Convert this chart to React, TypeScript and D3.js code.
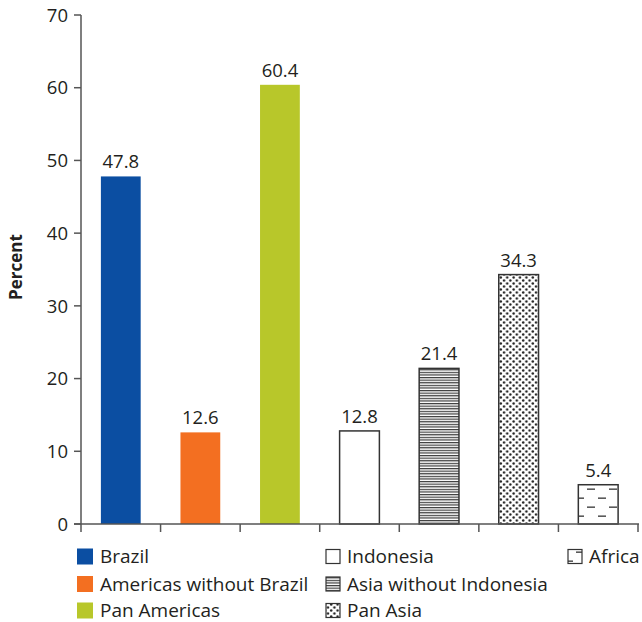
import React from "react";
import * as d3 from "d3";

const categories = [
  "Brazil",
  "Americas without Brazil",
  "Pan Americas",
  "Indonesia",
  "Asia without Indonesia",
  "Pan Asia",
  "Africa",
];
const values = [47.8, 12.6, 60.4, 12.8, 21.4, 34.3, 5.4];
const yTicks = [0, 10, 20, 30, 40, 50, 60, 70];
const fills = ["#0b4ea2", "#f36f21", "#b8c72a", "#ffffff", "url(#hlines)", "url(#dots)", "url(#dashes)"];
const legendColumns = [[0, 1, 2], [3, 4, 5], [6]];

const W = 642;
const H = 622;
const margin = { left: 81, right: 4, top: 15, bottom: 98 };
const FONT = "'Open Sans', 'Noto Sans', 'DejaVu Sans', sans-serif";
const TEXT = "#231f20";
const AXIS = "#555555";

export default function App() {
  const x = d3
    .scaleBand<string>()
    .domain(categories)
    .range([margin.left, W - margin.right])
    .paddingInner(0.5)
    .paddingOuter(0.25);
  const y = d3.scaleLinear().domain([0, 70]).range([524, 15]);
  const step = x.step();
  const x0 = margin.left;

  const legendX = [77, 326, 568];
  const legendY = [556.5, 584, 610.5];

  return (
    <svg
      width={W}
      height={H}
      style={{ position: "absolute", left: 0, top: 0, background: "#fff" }}
      fontFamily={FONT}
    >
      <defs>
        <pattern id="hlines" patternUnits="userSpaceOnUse" width={8} height={2.6}>
          <rect width={8} height={2.6} fill="#fff" />
          <rect y={0} width={8} height={1.2} fill="#3a3a3a" />
        </pattern>
        <pattern id="dots" patternUnits="userSpaceOnUse" width={6.4} height={6}>
          <rect width={6.4} height={6} fill="#fff" />
          <circle cx={1.6} cy={1.5} r={1.2} fill="#222" />
          <circle cx={4.8} cy={4.5} r={1.2} fill="#222" />
        </pattern>
        <pattern id="dashes" patternUnits="userSpaceOnUse" width={22} height={18} x={579} y={0}>
          <rect width={22} height={18} fill="#fff" />
          <rect x={8} y={2.5} width={8} height={1.3} fill="#333" />
          <rect x={-3} y={11.5} width={8} height={1.3} fill="#333" />
          <rect x={19} y={11.5} width={8} height={1.3} fill="#333" />
        </pattern>
      </defs>

      {/* bars */}
      {categories.map((c, i) => {
        const outlined = i >= 3;
        return (
          <rect
            key={c}
            x={x(c)!}
            y={y(values[i])}
            width={x.bandwidth()}
            height={y(0) - y(values[i])}
            fill={fills[i]}
            stroke={outlined ? "#333" : "none"}
            strokeWidth={outlined ? 1.5 : 0}
          />
        );
      })}

      {/* value labels */}
      {categories.map((c, i) => (
        <text
          key={c + "-lbl"}
          x={x(c)! + x.bandwidth() / 2}
          y={y(values[i]) - 8}
          textAnchor="middle"
          fontSize={18.5}
          fill={TEXT}
        >
          {values[i].toFixed(1)}
        </text>
      ))}

      {/* y axis */}
      <line x1={x0} x2={x0} y1={y(70)} y2={y(0)} stroke={AXIS} strokeWidth={1.5} />
      {yTicks.map((t) => (
        <g key={t}>
          <line x1={x0 - 7} x2={x0} y1={y(t)} y2={y(t)} stroke={AXIS} strokeWidth={1.5} />
          <text
            x={x0 - 13}
            y={y(t)}
            dy="0.36em"
            textAnchor="end"
            fontSize={18.5}
            fill={TEXT}
          >
            {t}
          </text>
        </g>
      ))}

      {/* x axis */}
      <line x1={x0 - 7} x2={W - margin.right + 1} y1={y(0)} y2={y(0)} stroke={AXIS} strokeWidth={1.5} />
      {d3.range(categories.length + 1).map((k) => (
        <line
          key={k}
          x1={x0 + k * step}
          x2={x0 + k * step}
          y1={y(0)}
          y2={y(0) + 8}
          stroke={AXIS}
          strokeWidth={1.5}
        />
      ))}

      {/* y title */}
      <text
        transform={`translate(22,${267}) rotate(-90)`}
        textAnchor="middle"
        fontSize={17}
        fontWeight="bold"
        fill={TEXT}
      >
        Percent
      </text>

      {/* legend */}
      {legendColumns.map((col, ci) =>
        col.map((idx, ri) => {
          const cx = legendX[ci];
          const cy = legendY[ri];
          const colored = idx < 3;
          const s = colored ? 16 : 14;
          return (
            <g key={categories[idx] + "-leg"}>
              <rect
                x={cx}
                y={cy - s / 2}
                width={s}
                height={s}
                fill={fills[idx]}
                stroke={colored ? "none" : "#333"}
                strokeWidth={colored ? 0 : 1.2}
              />
              <text
                x={cx + (colored ? 23 : 21)}
                y={cy}
                dy="0.36em"
                fontSize={19}
                fill={TEXT}
              >
                {categories[idx]}
              </text>
            </g>
          );
        })
      )}
    </svg>
  );
}
